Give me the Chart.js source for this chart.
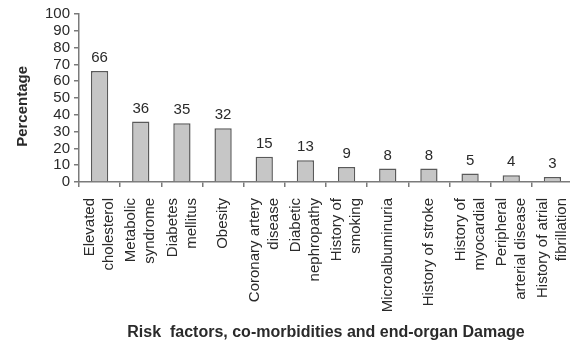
<!DOCTYPE html>
<html>
<head>
<meta charset="utf-8">
<script src="https://cdn.jsdelivr.net/npm/chart.js@4"></script>
<style>
  html, body { margin: 0; padding: 0; background: #fff; overflow: hidden; }
  #wrap { width: 573px; height: 341px; }
</style>
</head>
<body>
<div id="wrap"><canvas id="c" width="573" height="341"></canvas></div>
<script>
// Prevalence of risk factors, co-morbidities and end-organ damage (%)
const categories = [
  ["Elevated", "cholesterol"],
  ["Metabolic", "syndrome"],
  ["Diabetes", "mellitus"],
  "Obesity",
  ["Coronary artery", "disease"],
  ["Diabetic", "nephropathy"],
  ["History of", "smoking"],
  "Microalbuminuria",
  "History of stroke",
  ["History of", "myocardial"],
  ["Peripheral", "arterial disease"],
  ["History of atrial", "fibrillation"]
];
const percentages = [66, 36, 35, 32, 15, 13, 9, 8, 8, 5, 4, 3];
const yTicks = [0, 10, 20, 30, 40, 50, 60, 70, 80, 90, 100];
const yTitle = 'Percentage';
const xTitle = 'Risk  factors, co-morbidities and end-organ Damage';

const FONT = "'Liberation Sans', Arial, Helvetica, sans-serif";
const TEXT = '#2a2a2a';
const AXIS = '#7a7a7a';

// Value above each bar, vertical category names centred on each tick,
// and the vertical y-axis title
const annotations = {
  id: 'annotations',
  afterDraw(chart) {
    const ctx = chart.ctx;
    const meta = chart.getDatasetMeta(0);
    const xs = chart.scales.x;
    const ys = chart.scales.y;
    ctx.save();
    ctx.fillStyle = TEXT;

    // values
    ctx.font = '15px ' + FONT;
    ctx.textAlign = 'center';
    ctx.textBaseline = 'alphabetic';
    meta.data.forEach((bar, i) => {
      ctx.fillText(String(percentages[i]), bar.x, bar.y - 9);
    });

    // category names, rotated to read bottom-to-top
    const lineGap = 19;
    const top = xs.top + 16;
    ctx.textAlign = 'right';
    ctx.textBaseline = 'middle';
    categories.forEach((label, i) => {
      const lines = Array.isArray(label) ? label : [label];
      const cx = xs.getPixelForTick(i);
      lines.forEach((line, j) => {
        const lx = cx + (j - (lines.length - 1) / 2) * lineGap;
        ctx.save();
        ctx.translate(lx, top);
        ctx.rotate(-Math.PI / 2);
        ctx.fillText(line, 0, 0);
        ctx.restore();
      });
    });

    // y-axis title
    ctx.font = 'bold 15px ' + FONT;
    ctx.textAlign = 'center';
    ctx.textBaseline = 'middle';
    ctx.translate(23, ys.getPixelForValue(45));
    ctx.rotate(-Math.PI / 2);
    ctx.fillText(yTitle, 0, 0);
    ctx.restore();
  }
};

new Chart(document.getElementById('c'), {
  type: 'bar',
  data: {
    labels: categories,
    datasets: [{
      data: percentages,
      backgroundColor: '#c6c6c6',
      borderColor: '#5a5a5a',
      borderWidth: 1.5,
      barPercentage: 0.42,
      categoryPercentage: 1.0
    }]
  },
  options: {
    responsive: false,
    animation: false,
    devicePixelRatio: 1,
    layout: { padding: { top: 14, right: 0, bottom: 0, left: 0 } },
    plugins: {
      legend: { display: false },
      tooltip: { enabled: false }
    },
    scales: {
      x: {
        border: { display: true, color: AXIS, width: 1.5 },
        grid: {
          display: true, drawOnChartArea: false, drawTicks: true,
          tickLength: 5, color: AXIS, lineWidth: 1.5, offset: true
        },
        ticks: { display: false, autoSkip: false },
        title: {
          display: true,
          text: xTitle,
          color: TEXT,
          font: { family: FONT, size: 16, weight: 'bold', lineHeight: 1.0 },
          padding: { top: 0, bottom: 0 }
        },
        afterFit(scale) { scale.height = 159; }
      },
      y: {
        min: 0, max: 100,
        afterBuildTicks(scale) { scale.ticks = yTicks.map(v => ({ value: v })); },
        border: { display: true, color: AXIS, width: 1.5 },
        grid: {
          display: true, drawOnChartArea: false, drawTicks: true,
          tickLength: 5, color: AXIS, lineWidth: 1.5
        },
        ticks: {
          autoSkip: false,
          padding: 4, color: TEXT,
          font: { family: FONT, size: 15 }
        },
        afterFit(scale) { scale.width = 79; }
      }
    }
  },
  plugins: [annotations]
});
</script>
</body>
</html>
